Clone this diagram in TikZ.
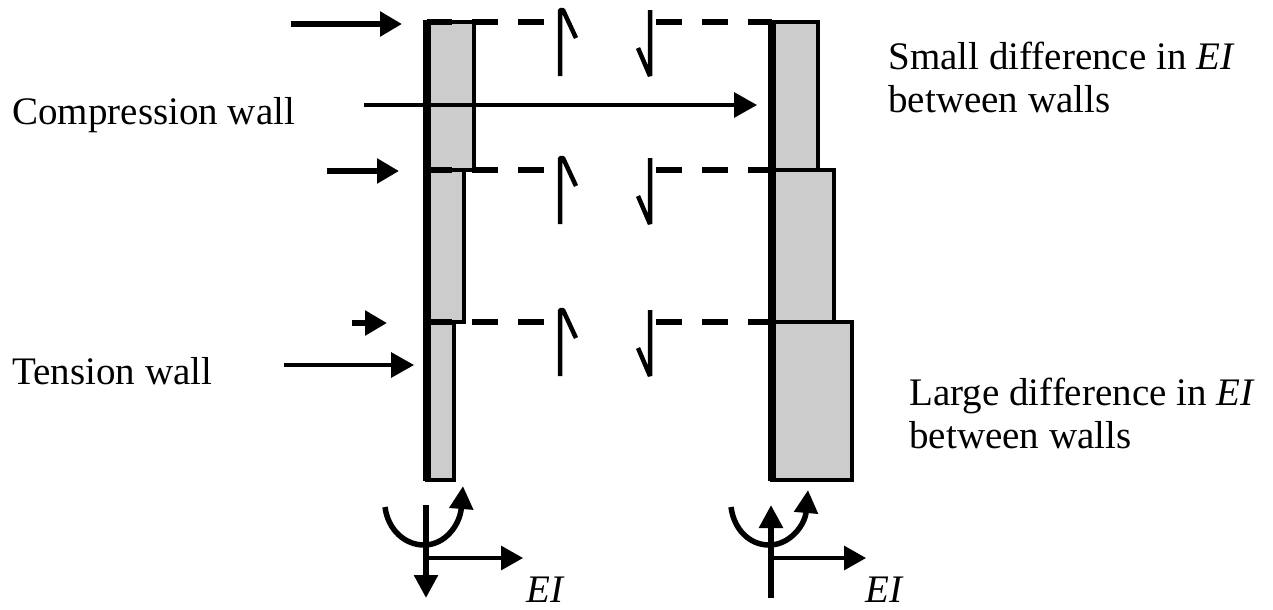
\documentclass[tikz,border=0pt]{standalone}
\usepackage{fontspec}
\setmainfont{Liberation Serif}
\usetikzlibrary{arrows.meta}
\definecolor{wallgray}{gray}{0.8}
\tikzset{
  x=0.02cm, y=-0.02cm,
  label/.style={font=\fontsize{22.2pt}{24.5pt}\selectfont, inner sep=0pt, align=left},
  wall/.style={black, line width=1.5mm},
  block/.style={black, fill=wallgray, line width=0.65mm},
  link/.style={black, line width=1.35mm},
  kink/.style={black, line width=0.9mm, line join=bevel},
  load/.style={black, line width=1.1mm, -{Triangle[length=4.4mm,width=4.8mm]}},
  lead/.style={black, line width=0.65mm, -{Triangle[length=4.6mm,width=5mm]}},
  axis/.style={black, line width=0.65mm, -{Triangle[length=4.4mm,width=4.8mm]}},
  moment/.style={black, line width=1.1mm, -{Triangle[length=4.6mm,width=4.6mm]}},
}
\begin{document}
\begin{tikzpicture}
\useasboundingbox (0,0) rectangle (1273,609);

% stories of the left wall
\draw[block] (427,22) rectangle (474,170);
\draw[block] (427,170) rectangle (464,322);
\draw[block] (427,322) rectangle (454,480);
% stories of the right wall
\draw[block] (772,22) rectangle (818,170);
\draw[block] (772,170) rectangle (834,322);
\draw[block] (772,322) rectangle (852,480);

\draw[wall] (427,20) -- (427,481);
\draw[wall] (772,20) -- (772,481);

% cut links
\foreach \y in {22,170,322} {
\draw[link] (427,\y) -- (452,\y);
\draw[link] (472,\y) -- (498,\y);
\draw[link] (518,\y) -- (544,\y);
\draw[link] (656,\y) -- (682,\y);
\draw[link] (702,\y) -- (728,\y);
\draw[link] (748,\y) -- (772,\y);
\draw[kink] (560,\y+54) -- (560,\y-12) -- (563,\y-12) -- (576,\y+16);
\draw[kink] (650,\y-12) -- (650,\y+54) -- (638,\y+26);
}

% storey loads
\coordinate (topload) at (291,24);
\coordinate (toptip) at (402,24);
\coordinate (midload) at (327,171);
\coordinate (midtip) at (399,171);
\coordinate (lowload) at (352,323);
\coordinate (lowtip) at (387,323);
\draw[load] (topload) -- (toptip);
\draw[load] (midload) -- (midtip);
\draw[load] (lowload) -- (lowtip);

% labels
\node[label, anchor=west] (compression) at (12,115) {Compression wall};
\node[label, anchor=west] (tension) at (12,371) {Tension wall};
\node[label, anchor=north west] (small) at (888,42) {Small difference in \textit{EI}\\between walls};
\node[label, anchor=north west] (large) at (909,378) {Large difference in \textit{EI}\\between walls};

\coordinate (comptail) at (364,105);
\coordinate (comptip) at (757,105);
\coordinate (tenstail) at (284,365);
\coordinate (tenstip) at (414,365);
\draw[lead] (comptail) -- (comptip);
\draw[lead] (tenstail) -- (tenstip);

% left base
\coordinate (leftaxis) at (426,558);
\coordinate (leftEItip) at (523,558);
\coordinate (leftup) at (426,505);
\coordinate (leftdown) at (426,598);
\draw[axis] (leftaxis) -- (leftEItip);
\draw[moment] (leftup) -- (leftdown);
\draw[moment] (385,507) .. controls (388,530) and (405,545) .. (424,545) .. controls (445,545) and (460,525) .. (463,486);
\node[label, anchor=center] (leftEI) at (546,590) {\textit{EI}};

% right base
\coordinate (rightaxis) at (771,558);
\coordinate (rightEItip) at (866,558);
\coordinate (rightup) at (771,505);
\coordinate (rightdown) at (771,598);
\draw[axis] (rightaxis) -- (rightEItip);
\draw[moment] (rightdown) -- (rightup);
\draw[moment] (731,507) .. controls (734,530) and (750,545) .. (769,545) .. controls (790,545) and (805,525) .. (808,490);
\node[label, anchor=center] (rightEI) at (885,590) {\textit{EI}};
\end{tikzpicture}
\end{document}
